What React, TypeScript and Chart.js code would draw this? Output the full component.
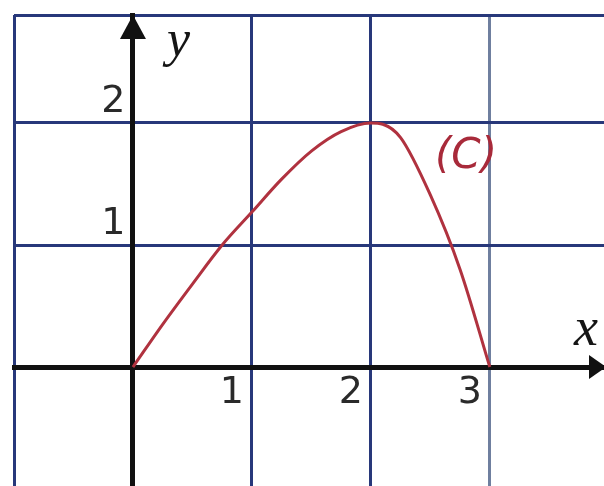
import React, { useEffect, useRef } from "react";
import { Chart, registerables } from "chart.js";

Chart.register(...registerables);

// Curve (C): sampled points of the function graph
const curveX = [0, 0.25, 0.5, 0.75, 1, 1.25, 1.5, 1.75, 2, 2.1, 2.25, 2.5, 2.75, 3];
const curveY = [0, 0.35, 0.68, 1.0, 1.27, 1.54, 1.77, 1.93, 2.0, 1.99, 1.88, 1.41, 0.8, 0];

// Visible window of the coordinate plane
const xRange = [-1, 3.96];
const yRange = [-0.975, 2.885];

// Grid lines and the numbers written next to the axes
const xGridValues = [-1, 0, 1, 2, 3];
const yGridValues = [0, 1, 2, 2.885];
const xTickLabels = [1, 2, 3];
const yTickLabels = [1, 2];

const curveName = "(C)";
const curveNameAt = { x: 2.8, y: 1.72 };

const GRID = "#28387a";
const GRID_LIGHT = "#6f7f9f";
const AXIS = "#111111";
const CURVE = "#b0323f";
const DIGITS = "#2a2a2a";

// axes sit inside the plot area, so they must not take layout space
const noLayoutSpace = (scale: any) => {
  if (scale.isHorizontal()) scale.height = 0;
  else scale.width = 0;
  scale.paddingTop = 0;
  scale.paddingBottom = 0;
  scale.paddingLeft = 0;
  scale.paddingRight = 0;
};

const axisDecor = {
  id: "axisDecor",
  afterDraw(chart: any) {
    const { ctx, chartArea, scales } = chart;
    const x0 = scales.x.getPixelForValue(0);
    const y0 = scales.y.getPixelForValue(0);
    ctx.save();
    ctx.fillStyle = AXIS;
    // arrow heads on both axes
    ctx.beginPath();
    ctx.moveTo(x0, chartArea.top);
    ctx.lineTo(x0 - 13, chartArea.top + 24);
    ctx.lineTo(x0 + 13, chartArea.top + 24);
    ctx.closePath();
    ctx.fill();
    ctx.beginPath();
    ctx.moveTo(chartArea.right + 2, y0);
    ctx.lineTo(chartArea.right - 15, y0 - 12);
    ctx.lineTo(chartArea.right - 15, y0 + 12);
    ctx.closePath();
    ctx.fill();

    // axis names
    ctx.fillStyle = "#151515";
    ctx.textBaseline = "alphabetic";
    ctx.textAlign = "left";
    ctx.font = 'italic 52px "Liberation Serif"';
    ctx.fillText("y", x0 + 34, chartArea.top + 41);
    ctx.textAlign = "right";
    ctx.font = 'italic 54px "Liberation Serif"';
    ctx.fillText("x", chartArea.right - 6, y0 - 22);

    // curve name
    const cx = scales.x.getPixelForValue(curveNameAt.x);
    const cy = scales.y.getPixelForValue(curveNameAt.y);
    ctx.fillStyle = "#a82a3a";
    ctx.textBaseline = "middle";
    ctx.textAlign = "center";
    ctx.font = 'italic 42px "DejaVu Sans"';
    ctx.fillText(curveName, cx, cy);
    ctx.restore();
  },
};

export default function App() {
  const canvasRef = useRef<HTMLCanvasElement | null>(null);

  useEffect(() => {
    const canvas = canvasRef.current;
    if (!canvas) return;
    const points = curveX.map((x, i) => ({ x, y: curveY[i] }));

    const chart = new Chart(canvas, {
      type: "scatter",
      data: {
        datasets: [
          {
            data: points,
            showLine: true,
            borderColor: CURVE,
            borderWidth: 3,
            pointRadius: 0,
            cubicInterpolationMode: "monotone",
            fill: false,
          },
        ],
      },
      options: {
        animation: false,
        responsive: true,
        maintainAspectRatio: false,
        layout: { padding: { left: 14, top: 15, right: 0, bottom: 0 } },
        plugins: { legend: { display: false }, tooltip: { enabled: false } },
        scales: {
          x: {
            type: "linear",
            min: xRange[0],
            max: xRange[1],
            position: { y: 0 } as any,
            afterBuildTicks: (scale: any) => {
              scale.ticks = xGridValues.map((value) => ({ value }));
            },
            afterFit: noLayoutSpace,
            grid: {
              drawTicks: false,
              lineWidth: 3,
              color: (c: any) => {
                const v = c.tick?.value;
                if (v === 0) return "rgba(0,0,0,0)";
                if (v === 3) return GRID_LIGHT;
                return GRID;
              },
            },
            border: { display: true, color: AXIS, width: 5 },
            ticks: {
              autoSkip: false,
              maxRotation: 0,
              padding: 3,
              labelOffset: -20,
              color: DIGITS,
              font: { family: "DejaVu Sans", size: 38 },
              callback: (v: any) => (xTickLabels.includes(Number(v)) ? String(v) : ""),
            },
          },
          y: {
            type: "linear",
            min: yRange[0],
            max: yRange[1],
            position: { x: 0 } as any,
            afterBuildTicks: (scale: any) => {
              scale.ticks = yGridValues.map((value) => ({ value }));
            },
            afterFit: noLayoutSpace,
            grid: {
              drawTicks: false,
              lineWidth: 3,
              color: (c: any) => (c.tick?.value === 0 ? "rgba(0,0,0,0)" : GRID),
            },
            border: { display: true, color: AXIS, width: 5 },
            ticks: {
              autoSkip: false,
              padding: 8,
              labelOffset: -21,
              color: DIGITS,
              font: { family: "DejaVu Sans", size: 38 },
              callback: (v: any) => (yTickLabels.includes(Number(v)) ? `${v}\u2009` : ""),
            },
          },
        },
      },
      plugins: [axisDecor],
    });

    return () => chart.destroy();
  }, []);

  return (
    <div style={{ position: "fixed", left: 0, top: 0, width: 604, height: 486, background: "#ffffff" }}>
      <canvas ref={canvasRef} />
    </div>
  );
}
